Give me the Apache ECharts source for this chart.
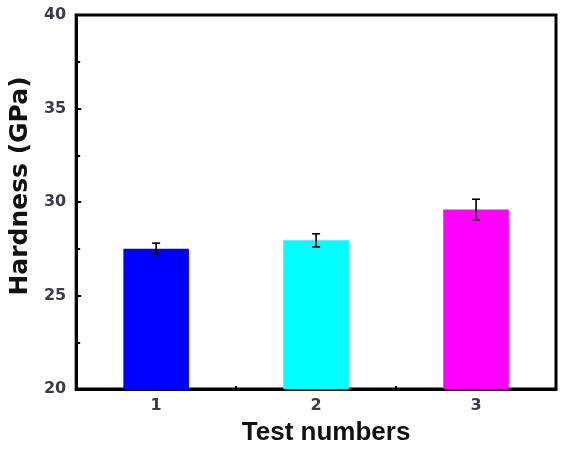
<!DOCTYPE html>
<html>
<head>
<meta charset="utf-8">
<script src="https://cdn.jsdelivr.net/npm/echarts@6/dist/echarts.min.js"></script>
<style>html,body{margin:0;padding:0;background:#fff;}#c{width:561px;height:454px;}</style>
</head>
<body>
<div id="c"></div>
<script>
var categories = ['1', '2', '3'];
var hardness = [27.5, 27.95, 29.6];
var errors = [0.3, 0.35, 0.55];
var barColors = ['#0000FF', '#00FFFF', '#FF00FF'];
var yTicks = [20, 25, 30, 35, 40];

var chart = echarts.init(document.getElementById('c'));
var option = {
  animation: false,
  backgroundColor: '#fff',
  grid: { left: 76, right: 5, top: 15, bottom: 65, show: true, borderColor: '#000', borderWidth: 3 },
  xAxis: {
    type: 'category',
    data: categories,
    name: 'Test numbers',
    nameLocation: 'middle',
    nameGap: 31,
    nameTextStyle: { fontFamily: 'Liberation Sans', fontWeight: 'bold', fontSize: 26, color: '#111', padding: [0, 0, 0, 20] },
    axisLine: { lineStyle: { color: '#000', width: 3 } },
    axisTick: { show: true, inside: true, length: 3, lineStyle: { color: '#000', width: 2 } },
    axisLabel: { margin: 9, fontFamily: 'DejaVu Sans', fontWeight: 'bold', fontSize: 16, color: '#3a3a48' }
  },
  yAxis: {
    type: 'value',
    min: yTicks[0],
    max: yTicks[yTicks.length - 1],
    interval: 5,
    name: 'Hardness (GPa)',
    nameLocation: 'middle',
    nameGap: 36,
    nameTextStyle: { fontFamily: 'DejaVu Sans', fontWeight: 'bold', fontSize: 25, color: '#111', padding: [0, 0, 0, 32] },
    axisLine: { show: true, lineStyle: { color: '#000', width: 3 } },
    axisTick: { show: true, inside: true, length: 5, lineStyle: { color: '#000', width: 2 } },
    minorTick: { show: true, splitNumber: 2, length: 4, lineStyle: { color: '#000', width: 2 } },
    splitLine: { show: false },
    axisLabel: { margin: 10, fontFamily: 'DejaVu Sans', fontWeight: 'bold', fontSize: 16, color: '#3a3a48' }
  },
  series: [
    {
      type: 'bar',
      barWidth: '41%',
      data: hardness.map(function (v, i) { return { value: v, itemStyle: { color: barColors[i] } }; })
    },
    {
      type: 'custom',
      z: 10,
      data: hardness.map(function (v, i) { return [i, v - errors[i], v + errors[i]]; }),
      renderItem: function (params, api) {
        var lo = api.coord([api.value(0), api.value(1)]);
        var hi = api.coord([api.value(0), api.value(2)]);
        var hw = 4;
        var style = { stroke: '#000', lineWidth: 1.6 };
        return {
          type: 'group',
          children: [
            { type: 'line', shape: { x1: lo[0], y1: lo[1], x2: hi[0], y2: hi[1] }, style: style },
            { type: 'line', shape: { x1: lo[0] - hw, y1: lo[1], x2: lo[0] + hw, y2: lo[1] }, style: style },
            { type: 'line', shape: { x1: hi[0] - hw, y1: hi[1], x2: hi[0] + hw, y2: hi[1] }, style: style }
          ]
        };
      }
    }
  ]
};
chart.setOption(option);
</script>
</body>
</html>
